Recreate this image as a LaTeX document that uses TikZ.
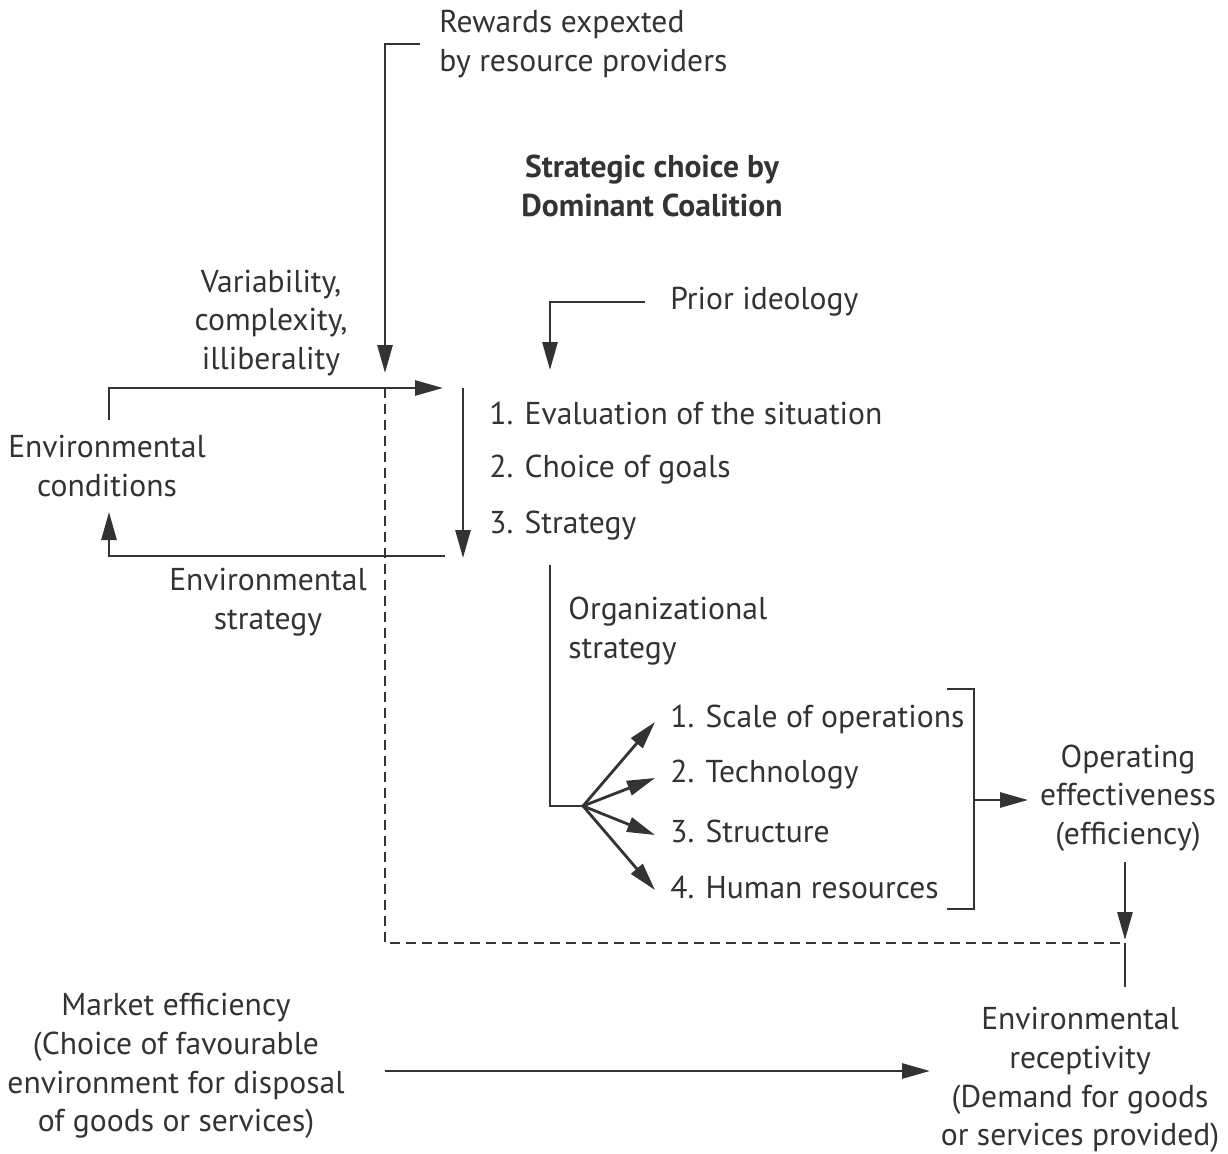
\documentclass[tikz,border=0pt]{standalone}
\usepackage{fontspec}
\setmainfont{PT Sans}
\usetikzlibrary{arrows.meta}
\definecolor{ink}{RGB}{51,51,51}
\tikzset{
	lbl/.style={text=ink, align=center, inner sep=0pt, font=\fontsize{15.8}{19.3}\selectfont},
	item/.style={lbl, anchor=west, align=left},
	title/.style={lbl, font=\fontsize{15.8}{19.3}\selectfont\bfseries},
	wire/.style={draw=ink, line width=1.4pt},
	flow/.style={wire, -{Triangle[length=14pt,width=7.5pt]}},
	dashline/.style={wire, dash pattern=on 5pt off 3pt},
}
\begin{document}
\begin{tikzpicture}[x=0.5pt,y=-0.5pt]
	\useasboundingbox (0,0) rectangle (1228,1153);
	% texts
	\node[item] (rewards) at (439,44) {Rewards expexted\\by resource providers};
	\node[title] (choice) at (652,186) {Strategic choice by\\Dominant Coalition};
	\node[lbl] (variab) at (271,323) {Variability,\\complexity,\\illiberality};
	\node[lbl] (envcond) at (107,466) {Environmental\\conditions};
	\node[lbl] (envstrat) at (268,602) {Environmental\\strategy};
	\node[item] (ideology) at (670,302) {Prior ideology};
	\node[item] (eval) at (489,413) {1. Evaluation of the situation};
	\node[item] (goals) at (489,470) {2. Choice of goals};
	\node[item] (strategy) at (489,526) {3. Strategy};
	\node[item] (orgstrat) at (568,631) {Organizational\\strategy};
	\foreach \y/\t [count=\i] in {719/Scale of operations,775/Technology,831/Structure,887/Human resources}
	\node[item] (op\i) at (670,\y) {\i. \t};
	\node[lbl] (effect) at (1128,798) {Operating\\effectiveness\\(efficiency)};
	\node[lbl] (recept) at (1080,1080) {Environmental\\receptivity\\(Demand for goods\\or services provided)};
	\node[lbl] (market) at (176,1066) {Market efficiency\\(Choice of favourable\\environment for disposal\\of goods or services)};
	% junction points
	\coordinate (cross) at (385,388);
	\coordinate (inTip) at (443,388);
	\coordinate (outEnd) at (445,556);
	\coordinate (fan) at (583,806);
	\coordinate (brOut) at (974,800);
	\coordinate (meet) at (1125,943);
	% rewards and environment loop
	\draw[flow] ([xshift=-9.5pt]rewards.west) -| (385,373);
	\draw[flow] (109,420) |- (inTip);
	\draw[flow] (outEnd) -| (109,512);
	\draw[flow] (463,388) -- (463,558);
	\draw[flow] ([xshift=-12.5pt]ideology.west) -| (550,370);
	% organizational strategy
	\draw[wire] (550,565) |- (fan);
	\foreach \y in {722,778,835,890}
	\draw[flow] (fan) -- (655,\y);
	\draw[wire] (947,689) -- (974,689) -- (974,909) -- (947,909);
	\draw[flow] (brOut) -- (1028,800);
	% feedback to environment
	\draw[flow] (1125,862) -- (1125,940);
	\draw[dashline] (cross) -- (385,943) -- (meet);
	\draw[wire] (meet) -- (1125,987);
	\draw[flow] (385,1071) -- (930,1071);
\end{tikzpicture}
\end{document}
